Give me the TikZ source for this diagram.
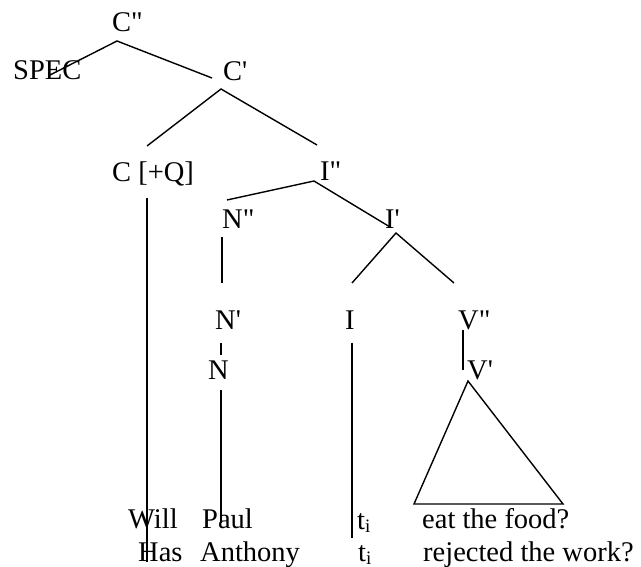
\documentclass[tikz,border=0pt]{standalone}
\usepackage{fontspec}
\setmainfont{Liberation Serif}[Ligatures=TeXOff]
\newcommand{\subi}{\raisebox{-3pt}{\fontsize{19}{19}\selectfont i}}
\begin{document}
\begin{tikzpicture}[x=1pt,y=-1pt,
  lbl/.style={inner sep=0pt,anchor=base west,font=\fontsize{28.5}{30}\selectfont},
  edge/.style={line width=1.4pt}]
\useasboundingbox (0,0) rectangle (641,567);
% labels
\node[lbl] (Cpp) at (112,32) {C"};
\node[lbl] (spec) at (13,80) {SPEC};
\node[lbl] (Cp) at (223,81) {C'};
\node[lbl] (C) at (112,182) {C [+Q]};
\node[lbl] (Ipp) at (320,181) {I"};
\node[lbl] (Npp) at (222,229) {N"};
\node[lbl] (Ip) at (385,229) {I'};
\node[lbl] (Np) at (215,330) {N'};
\node[lbl] (I) at (345,330) {I};
\node[lbl] (Vpp) at (458,330) {V"};
\node[lbl] (N) at (208,380) {N};
\node[lbl] (Vp) at (467,380) {V'};
\node[lbl] (will) at (128,528) {Will};
\node[lbl] (paul) at (202,528) {Paul};
\node[lbl] (t1) at (357,529) {t\subi};
\node[lbl] (eat) at (422,528) {eat the food?};
\node[lbl] (has) at (138,561) {Has};
\node[lbl] (anth) at (200,561) {Anthony};
\node[lbl] (t2) at (358,561) {t\subi};
\node[lbl] (rej) at (423,561) {rejected the work?};
% connector ends
\coordinate (cppA) at (117,41);
\coordinate (specE) at (50,75);
\coordinate (cpE) at (212,78);
\coordinate (cpA) at (221,89);
\coordinate (cE) at (147,146);
\coordinate (ippE) at (317,145);
\coordinate (cT) at (147,198);
\coordinate (cB) at (147,562);
\coordinate (ippA) at (314,181);
\coordinate (nppE) at (227,200);
\coordinate (ipE) at (390,227);
\coordinate (nppT) at (222,237);
\coordinate (nppB) at (222,283);
\coordinate (ipA) at (396,233);
\coordinate (iE) at (352,283);
\coordinate (vppE) at (454,283);
\coordinate (nT) at (221,343);
\coordinate (nM) at (221,355);
\coordinate (nL) at (221,390);
\coordinate (nB) at (221,523);
\coordinate (iT) at (352,343);
\coordinate (iB) at (352,538);
\coordinate (vT) at (463,330);
\coordinate (vB) at (463,370);
\coordinate (triA) at (468,381);
\coordinate (triL) at (414,504);
\coordinate (triR) at (563,504);
% connectors
\draw[edge] (specE) -- (cppA) -- (cpE);
\draw[edge] (cE) -- (cpA) -- (ippE);
\draw[edge] (cT) -- (cB);
\draw[edge] (nppE) -- (ippA) -- (ipE);
\draw[edge] (nppT) -- (nppB);
\draw[edge] (iE) -- (ipA) -- (vppE);
\draw[edge] (nT) -- (nM);
\draw[edge] (nL) -- (nB);
\draw[edge] (iT) -- (iB);
\draw[edge] (vT) -- (vB);
\draw[edge] (triA) -- (triL) -- (triR) -- cycle;
\end{tikzpicture}
\end{document}
